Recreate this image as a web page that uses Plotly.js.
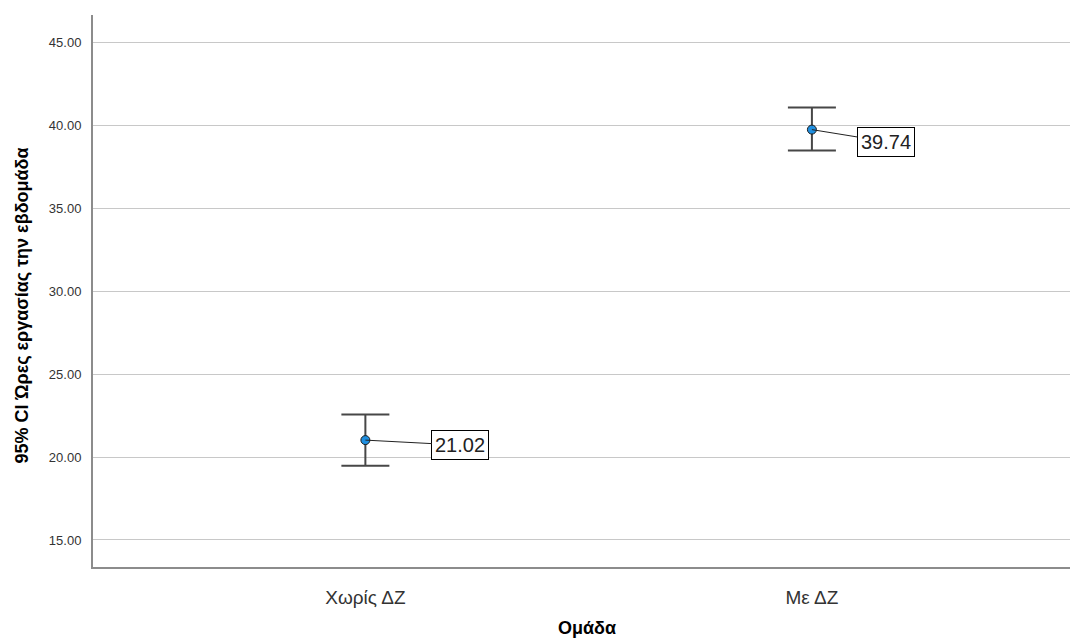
<!DOCTYPE html>
<html>
<head>
<meta charset="utf-8">
<script src="https://cdn.plot.ly/plotly-3.0.1.min.js"></script>
<style>html,body{margin:0;padding:0;background:#fff;}#chart{width:1070px;height:641px;}</style>
</head>
<body>
<div id="chart"></div>
<script>
const categories = ["Χωρίς ΔΖ", "Με ΔΖ"];
const means = [21.02, 39.74];
const upper = [22.56, 41.07];
const lower = [19.48, 38.48];
const meanLabels = ["21.02", "39.74"];
const yTickVals = [15, 20, 25, 30, 35, 40, 45];
const yTickText = ["15.00", "20.00", "25.00", "30.00", "35.00", "40.00", "45.00"];
const xTitle = "Ομάδα";
const yTitle = "95% CI Ώρες εργασίας την εβδομάδα";

const errPlus = means.map((m, i) => upper[i] - m);
const errMinus = means.map((m, i) => m - lower[i]);

const trace = {
  type: "scatter",
  mode: "markers",
  x: categories,
  y: means,
  marker: {size: 9, color: "#1f8fe0", line: {color: "#1a1a1a", width: 1}},
  error_y: {
    type: "data", symmetric: false,
    array: errPlus, arrayminus: errMinus,
    color: "#474747", thickness: 2, width: 24
  },
  hoverinfo: "skip"
};

const FONT = "Liberation Sans, Arial, sans-serif";
const labelOffsets = [[95, 5], [74, 12]];
const annotations = categories.map((c, i) => ({
  x: c, y: means[i], xref: "x", yref: "y",
  text: meanLabels[i],
  showarrow: true, arrowhead: 0, arrowwidth: 1, arrowcolor: "#222",
  ax: labelOffsets[i][0], ay: labelOffsets[i][1],
  bgcolor: "#ffffff", bordercolor: "#000", borderwidth: 1, borderpad: 3,
  font: {family: FONT, size: 20, color: "#222"}
}));
annotations.push({
  text: xTitle, xref: "paper", yref: "paper",
  x: 0.506, y: -0.111, xanchor: "center", yanchor: "middle", showarrow: false,
  font: {family: FONT, size: 18, color: "#000", weight: "bold"}
});
annotations.push({
  text: yTitle, xref: "paper", yref: "paper", textangle: -90,
  x: -0.073, y: 0.473, xanchor: "center", yanchor: "middle", showarrow: false,
  font: {family: FONT, size: 18, color: "#000", weight: "bold"}
});

const layout = {
  width: 1070, height: 641,
  margin: {l: 93, r: 0, t: 15, b: 74},
  paper_bgcolor: "#ffffff", plot_bgcolor: "#ffffff",
  showlegend: false,
  font: {family: FONT, color: "#333"},
  xaxis: {
    type: "category",
    range: [-0.61, 1.578],
    showgrid: false, zeroline: false,
    showline: true, linecolor: "#8c8c8c", linewidth: 2,
    ticks: "", ticklabelstandoff: 12,
    tickfont: {size: 19, color: "#333", family: FONT}
  },
  yaxis: {
    range: [13.37, 46.65],
    tickvals: yTickVals, ticktext: yTickText,
    showgrid: true, gridcolor: "#c8c8c8", gridwidth: 1,
    zeroline: false,
    showline: true, linecolor: "#8c8c8c", linewidth: 2,
    ticks: "", ticklabelstandoff: 7,
    tickfont: {size: 13, color: "#333"}
  },
  annotations: annotations
};

Plotly.newPlot("chart", [trace], layout, {staticPlot: true, displayModeBar: false});
</script>
</body>
</html>
